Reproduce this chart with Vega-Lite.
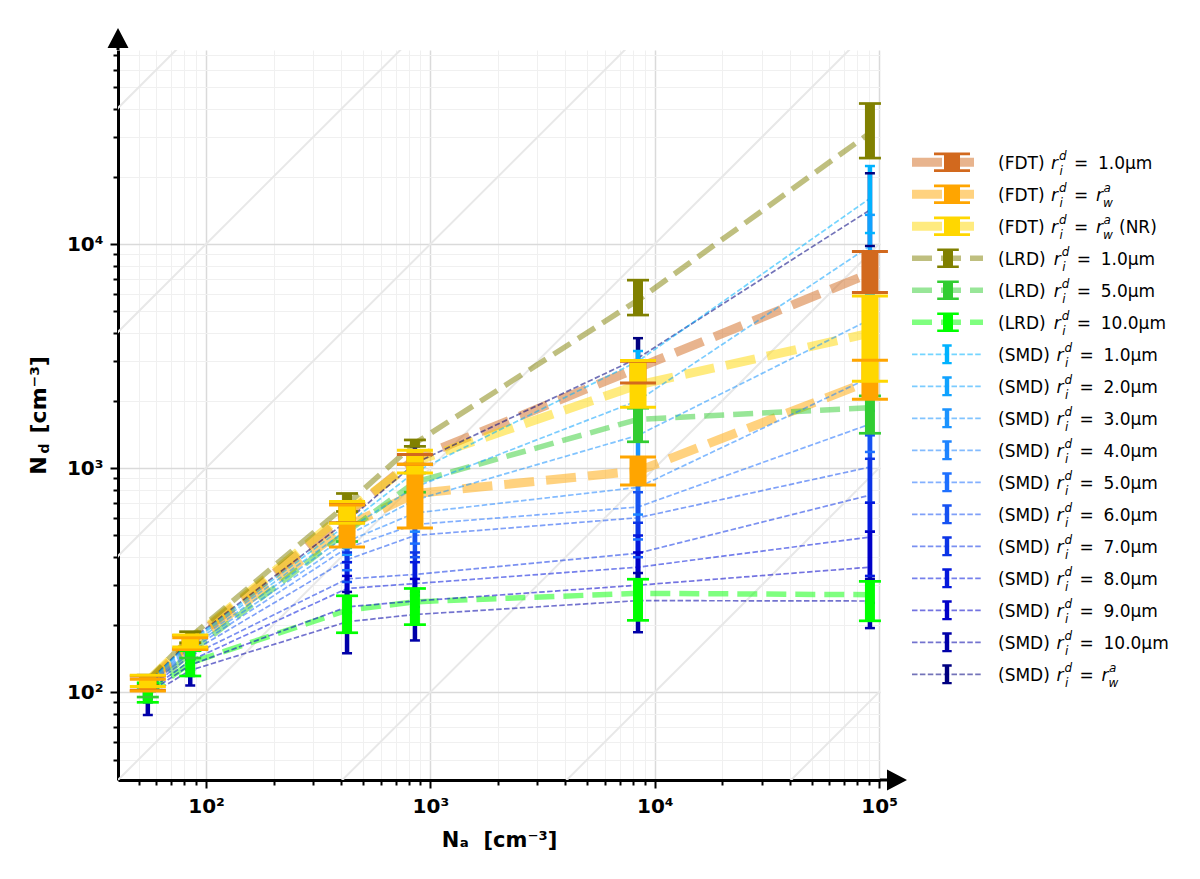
{
  "$schema": "https://vega.github.io/schema/vega-lite/v6.json",
  "padding": {"top": 28, "left": 27, "right": 5, "bottom": 5},
  "background": "white",
  "config": {
    "view": {"stroke": null},
    "font": "DejaVu Sans",
    "range": {"category": ["#D2691E", "#FFA500", "#FFD700", "#808000", "#32CD32", "#00FF00", "#00B2FF", "#0FA2FF", "#1A93FF", "#1E84FF", "#1E70FF", "#1652F2", "#0C34E6", "#0418DC", "#0000C8", "#0000A8", "#000080"]}
  },
  "datasets": {
    "pts": [
      {"s": "01_FDT_1.0", "m": "FDT", "x": 55, "y": 110, "lo": 102, "hi": 118},
      {"s": "01_FDT_1.0", "m": "FDT", "x": 85, "y": 168, "lo": 156, "hi": 179},
      {"s": "01_FDT_1.0", "m": "FDT", "x": 425, "y": 620, "lo": 570, "hi": 700},
      {"s": "01_FDT_1.0", "m": "FDT", "x": 853, "y": 1100, "lo": 1040, "hi": 1150},
      {"s": "01_FDT_1.0", "m": "FDT", "x": 8420, "y": 2800, "lo": 2400, "hi": 3000},
      {"s": "01_FDT_1.0", "m": "FDT", "x": 91000, "y": 7400, "lo": 6070, "hi": 9270},
      {"s": "02_FDT_rwa", "m": "FDT", "x": 55, "y": 108, "lo": 101, "hi": 114},
      {"s": "02_FDT_rwa", "m": "FDT", "x": 85, "y": 164, "lo": 155, "hi": 175},
      {"s": "02_FDT_rwa", "m": "FDT", "x": 425, "y": 550, "lo": 444, "hi": 684},
      {"s": "02_FDT_rwa", "m": "FDT", "x": 853, "y": 770, "lo": 540, "hi": 1040},
      {"s": "02_FDT_rwa", "m": "FDT", "x": 8420, "y": 970, "lo": 840, "hi": 1120},
      {"s": "02_FDT_rwa", "m": "FDT", "x": 91000, "y": 2450, "lo": 2030, "hi": 3030},
      {"s": "03_FDT_NR", "m": "FDT", "x": 55, "y": 112, "lo": 106, "hi": 119},
      {"s": "03_FDT_NR", "m": "FDT", "x": 85, "y": 170, "lo": 159, "hi": 180},
      {"s": "03_FDT_NR", "m": "FDT", "x": 425, "y": 640, "lo": 567, "hi": 710},
      {"s": "03_FDT_NR", "m": "FDT", "x": 853, "y": 1070, "lo": 950, "hi": 1200},
      {"s": "03_FDT_NR", "m": "FDT", "x": 8420, "y": 2350, "lo": 1870, "hi": 3020},
      {"s": "03_FDT_NR", "m": "FDT", "x": 91000, "y": 4000, "lo": 2440, "hi": 5860},
      {"s": "04_LRD_1.0", "m": "LRD", "x": 55, "y": 113, "lo": 107, "hi": 119},
      {"s": "04_LRD_1.0", "m": "LRD", "x": 85, "y": 176, "lo": 166, "hi": 186},
      {"s": "04_LRD_1.0", "m": "LRD", "x": 425, "y": 690, "lo": 640, "hi": 770},
      {"s": "04_LRD_1.0", "m": "LRD", "x": 853, "y": 1290, "lo": 1250, "hi": 1335},
      {"s": "04_LRD_1.0", "m": "LRD", "x": 8420, "y": 5620, "lo": 4820, "hi": 6900},
      {"s": "04_LRD_1.0", "m": "LRD", "x": 91000, "y": 31300, "lo": 24200, "hi": 42400},
      {"s": "05_LRD_5.0", "m": "LRD", "x": 55, "y": 100, "lo": 95, "hi": 105},
      {"s": "05_LRD_5.0", "m": "LRD", "x": 85, "y": 150, "lo": 142, "hi": 158},
      {"s": "05_LRD_5.0", "m": "LRD", "x": 425, "y": 520, "lo": 470, "hi": 570},
      {"s": "05_LRD_5.0", "m": "LRD", "x": 853, "y": 865, "lo": 780, "hi": 950},
      {"s": "05_LRD_5.0", "m": "LRD", "x": 8420, "y": 1650, "lo": 1310, "hi": 1850},
      {"s": "05_LRD_5.0", "m": "LRD", "x": 91000, "y": 1860, "lo": 1430, "hi": 2100},
      {"s": "06_LRD_10.0", "m": "LRD", "x": 55, "y": 98, "lo": 90, "hi": 110},
      {"s": "06_LRD_10.0", "m": "LRD", "x": 85, "y": 135, "lo": 118, "hi": 153},
      {"s": "06_LRD_10.0", "m": "LRD", "x": 425, "y": 232, "lo": 184, "hi": 269},
      {"s": "06_LRD_10.0", "m": "LRD", "x": 853, "y": 253, "lo": 200, "hi": 290},
      {"s": "06_LRD_10.0", "m": "LRD", "x": 8420, "y": 276, "lo": 209, "hi": 319},
      {"s": "06_LRD_10.0", "m": "LRD", "x": 91000, "y": 272, "lo": 208, "hi": 312},
      {"s": "17_SMD_rwa", "m": "SMD", "x": 55, "y": 110, "lo": 104, "hi": 116},
      {"s": "17_SMD_rwa", "m": "SMD", "x": 85, "y": 170, "lo": 160, "hi": 180},
      {"s": "17_SMD_rwa", "m": "SMD", "x": 425, "y": 580, "lo": 480, "hi": 700},
      {"s": "17_SMD_rwa", "m": "SMD", "x": 853, "y": 1050, "lo": 850, "hi": 1250},
      {"s": "17_SMD_rwa", "m": "SMD", "x": 8420, "y": 3100, "lo": 2300, "hi": 3800},
      {"s": "17_SMD_rwa", "m": "SMD", "x": 91000, "y": 14200, "lo": 9800, "hi": 20700},
      {"s": "07_SMD_1.0", "m": "SMD", "x": 55, "y": 110, "lo": 105, "hi": 116},
      {"s": "07_SMD_1.0", "m": "SMD", "x": 85, "y": 168, "lo": 160, "hi": 177},
      {"s": "07_SMD_1.0", "m": "SMD", "x": 425, "y": 560, "lo": 470, "hi": 660},
      {"s": "07_SMD_1.0", "m": "SMD", "x": 853, "y": 960, "lo": 800, "hi": 1150},
      {"s": "07_SMD_1.0", "m": "SMD", "x": 8420, "y": 3000, "lo": 2350, "hi": 3330},
      {"s": "07_SMD_1.0", "m": "SMD", "x": 91000, "y": 16000, "lo": 11200, "hi": 22300},
      {"s": "08_SMD_2.0", "m": "SMD", "x": 55, "y": 109, "lo": 104, "hi": 115},
      {"s": "08_SMD_2.0", "m": "SMD", "x": 85, "y": 166, "lo": 157, "hi": 175},
      {"s": "08_SMD_2.0", "m": "SMD", "x": 425, "y": 530, "lo": 440, "hi": 630},
      {"s": "08_SMD_2.0", "m": "SMD", "x": 853, "y": 822, "lo": 680, "hi": 1000},
      {"s": "08_SMD_2.0", "m": "SMD", "x": 8420, "y": 2000, "lo": 1450, "hi": 2700},
      {"s": "08_SMD_2.0", "m": "SMD", "x": 91000, "y": 9800, "lo": 6000, "hi": 13500},
      {"s": "09_SMD_3.0", "m": "SMD", "x": 55, "y": 108, "lo": 102, "hi": 114},
      {"s": "09_SMD_3.0", "m": "SMD", "x": 85, "y": 162, "lo": 153, "hi": 172},
      {"s": "09_SMD_3.0", "m": "SMD", "x": 425, "y": 500, "lo": 410, "hi": 600},
      {"s": "09_SMD_3.0", "m": "SMD", "x": 853, "y": 720, "lo": 600, "hi": 880},
      {"s": "09_SMD_3.0", "m": "SMD", "x": 8420, "y": 1400, "lo": 950, "hi": 1900},
      {"s": "09_SMD_3.0", "m": "SMD", "x": 91000, "y": 4600, "lo": 3000, "hi": 6500},
      {"s": "10_SMD_4.0", "m": "SMD", "x": 55, "y": 107, "lo": 101, "hi": 113},
      {"s": "10_SMD_4.0", "m": "SMD", "x": 85, "y": 158, "lo": 149, "hi": 168},
      {"s": "10_SMD_4.0", "m": "SMD", "x": 425, "y": 470, "lo": 380, "hi": 570},
      {"s": "10_SMD_4.0", "m": "SMD", "x": 853, "y": 630, "lo": 520, "hi": 760},
      {"s": "10_SMD_4.0", "m": "SMD", "x": 8420, "y": 820, "lo": 620, "hi": 1100},
      {"s": "10_SMD_4.0", "m": "SMD", "x": 91000, "y": 2540, "lo": 1800, "hi": 3500},
      {"s": "11_SMD_5.0", "m": "SMD", "x": 55, "y": 106, "lo": 100, "hi": 112},
      {"s": "11_SMD_5.0", "m": "SMD", "x": 85, "y": 154, "lo": 145, "hi": 164},
      {"s": "11_SMD_5.0", "m": "SMD", "x": 425, "y": 440, "lo": 350, "hi": 540},
      {"s": "11_SMD_5.0", "m": "SMD", "x": 853, "y": 560, "lo": 460, "hi": 680},
      {"s": "11_SMD_5.0", "m": "SMD", "x": 8420, "y": 670, "lo": 480, "hi": 900},
      {"s": "11_SMD_5.0", "m": "SMD", "x": 91000, "y": 1570, "lo": 1180, "hi": 2100},
      {"s": "12_SMD_6.0", "m": "SMD", "x": 55, "y": 105, "lo": 98, "hi": 111},
      {"s": "12_SMD_6.0", "m": "SMD", "x": 85, "y": 150, "lo": 140, "hi": 160},
      {"s": "12_SMD_6.0", "m": "SMD", "x": 425, "y": 390, "lo": 310, "hi": 490},
      {"s": "12_SMD_6.0", "m": "SMD", "x": 853, "y": 500, "lo": 400, "hi": 620},
      {"s": "12_SMD_6.0", "m": "SMD", "x": 8420, "y": 600, "lo": 400, "hi": 780},
      {"s": "12_SMD_6.0", "m": "SMD", "x": 91000, "y": 1010, "lo": 700, "hi": 1400},
      {"s": "13_SMD_7.0", "m": "SMD", "x": 55, "y": 103, "lo": 96, "hi": 110},
      {"s": "13_SMD_7.0", "m": "SMD", "x": 85, "y": 145, "lo": 135, "hi": 156},
      {"s": "13_SMD_7.0", "m": "SMD", "x": 425, "y": 320, "lo": 260, "hi": 420},
      {"s": "13_SMD_7.0", "m": "SMD", "x": 853, "y": 335, "lo": 270, "hi": 420},
      {"s": "13_SMD_7.0", "m": "SMD", "x": 8420, "y": 417, "lo": 300, "hi": 570},
      {"s": "13_SMD_7.0", "m": "SMD", "x": 91000, "y": 757, "lo": 520, "hi": 1100},
      {"s": "14_SMD_8.0", "m": "SMD", "x": 55, "y": 101, "lo": 93, "hi": 108},
      {"s": "14_SMD_8.0", "m": "SMD", "x": 85, "y": 138, "lo": 126, "hi": 150},
      {"s": "14_SMD_8.0", "m": "SMD", "x": 425, "y": 290, "lo": 225, "hi": 380},
      {"s": "14_SMD_8.0", "m": "SMD", "x": 853, "y": 305, "lo": 240, "hi": 380},
      {"s": "14_SMD_8.0", "m": "SMD", "x": 8420, "y": 361, "lo": 250, "hi": 500},
      {"s": "14_SMD_8.0", "m": "SMD", "x": 91000, "y": 492, "lo": 330, "hi": 700},
      {"s": "15_SMD_9.0", "m": "SMD", "x": 55, "y": 99, "lo": 90, "hi": 107},
      {"s": "15_SMD_9.0", "m": "SMD", "x": 85, "y": 132, "lo": 118, "hi": 146},
      {"s": "15_SMD_9.0", "m": "SMD", "x": 425, "y": 240, "lo": 185, "hi": 330},
      {"s": "15_SMD_9.0", "m": "SMD", "x": 853, "y": 255, "lo": 200, "hi": 320},
      {"s": "15_SMD_9.0", "m": "SMD", "x": 8420, "y": 300, "lo": 215, "hi": 420},
      {"s": "15_SMD_9.0", "m": "SMD", "x": 91000, "y": 361, "lo": 250, "hi": 520},
      {"s": "16_SMD_10.0", "m": "SMD", "x": 55, "y": 96, "lo": 79, "hi": 106},
      {"s": "16_SMD_10.0", "m": "SMD", "x": 85, "y": 125, "lo": 107, "hi": 140},
      {"s": "16_SMD_10.0", "m": "SMD", "x": 425, "y": 206, "lo": 149, "hi": 280},
      {"s": "16_SMD_10.0", "m": "SMD", "x": 853, "y": 222, "lo": 170, "hi": 280},
      {"s": "16_SMD_10.0", "m": "SMD", "x": 8420, "y": 256, "lo": 185, "hi": 340},
      {"s": "16_SMD_10.0", "m": "SMD", "x": 91000, "y": 255, "lo": 193, "hi": 320}
    ],
    "diag": [
      {"k": "-3", "x": 100, "y": 0.1}, {"k": "-3", "x": 1000000, "y": 1000},
      {"k": "-2", "x": 100, "y": 1}, {"k": "-2", "x": 1000000, "y": 10000},
      {"k": "-1", "x": 10, "y": 1}, {"k": "-1", "x": 1000000, "y": 100000},
      {"k": "0", "x": 10, "y": 10}, {"k": "0", "x": 1000000, "y": 1000000},
      {"k": "1", "x": 1, "y": 10}, {"k": "1", "x": 100000, "y": 1000000},
      {"k": "2", "x": 1, "y": 100}, {"k": "2", "x": 10000, "y": 1000000},
      {"k": "3", "x": 1, "y": 1000}, {"k": "3", "x": 1000, "y": 1000000}
    ],
    "leg": [
      {"s": "01_FDT_1.0", "m": "FDT", "pre": "(FDT)", "val": "1.0µm", "rw": "", "sa": "", "sw": "", "nr": ""},
      {"s": "02_FDT_rwa", "m": "FDT", "pre": "(FDT)", "val": "", "rw": "r", "sa": "a", "sw": "w", "nr": ""},
      {"s": "03_FDT_NR", "m": "FDT", "pre": "(FDT)", "val": "", "rw": "r", "sa": "a", "sw": "w", "nr": "(NR)"},
      {"s": "04_LRD_1.0", "m": "LRD", "pre": "(LRD)", "val": "1.0µm", "rw": "", "sa": "", "sw": "", "nr": ""},
      {"s": "05_LRD_5.0", "m": "LRD", "pre": "(LRD)", "val": "5.0µm", "rw": "", "sa": "", "sw": "", "nr": ""},
      {"s": "06_LRD_10.0", "m": "LRD", "pre": "(LRD)", "val": "10.0µm", "rw": "", "sa": "", "sw": "", "nr": ""},
      {"s": "07_SMD_1.0", "m": "SMD", "pre": "(SMD)", "val": "1.0µm", "rw": "", "sa": "", "sw": "", "nr": ""},
      {"s": "08_SMD_2.0", "m": "SMD", "pre": "(SMD)", "val": "2.0µm", "rw": "", "sa": "", "sw": "", "nr": ""},
      {"s": "09_SMD_3.0", "m": "SMD", "pre": "(SMD)", "val": "3.0µm", "rw": "", "sa": "", "sw": "", "nr": ""},
      {"s": "10_SMD_4.0", "m": "SMD", "pre": "(SMD)", "val": "4.0µm", "rw": "", "sa": "", "sw": "", "nr": ""},
      {"s": "11_SMD_5.0", "m": "SMD", "pre": "(SMD)", "val": "5.0µm", "rw": "", "sa": "", "sw": "", "nr": ""},
      {"s": "12_SMD_6.0", "m": "SMD", "pre": "(SMD)", "val": "6.0µm", "rw": "", "sa": "", "sw": "", "nr": ""},
      {"s": "13_SMD_7.0", "m": "SMD", "pre": "(SMD)", "val": "7.0µm", "rw": "", "sa": "", "sw": "", "nr": ""},
      {"s": "14_SMD_8.0", "m": "SMD", "pre": "(SMD)", "val": "8.0µm", "rw": "", "sa": "", "sw": "", "nr": ""},
      {"s": "15_SMD_9.0", "m": "SMD", "pre": "(SMD)", "val": "9.0µm", "rw": "", "sa": "", "sw": "", "nr": ""},
      {"s": "16_SMD_10.0", "m": "SMD", "pre": "(SMD)", "val": "10.0µm", "rw": "", "sa": "", "sw": "", "nr": ""},
      {"s": "17_SMD_rwa", "m": "SMD", "pre": "(SMD)", "val": "", "rw": "r", "sa": "a", "sw": "w", "nr": ""}
    ]
  },
  "spacing": 0,
  "hconcat": [
    {
      "width": 762,
      "height": 730,
      "data": {"name": "pts"},
      "encoding": {
        "x": {"field": "x", "type": "quantitative", "scale": {"type": "log", "domain": [40.5, 100900], "nice": false}, "axis": null},
        "y": {"field": "y", "type": "quantitative", "scale": {"type": "log", "domain": [40.5, 73500], "nice": false}, "axis": null},
        "color": {"field": "s", "type": "nominal", "legend": null}
      },
      "resolve": {"axis": {"x": "independent", "y": "independent"}},
      "layer": [
        {
          "data": {"name": "diag"},
          "mark": {"type": "line", "clip": true, "strokeWidth": 2, "color": "#e8e8e8"},
          "encoding": {
            "x": {
              "field": "x", "type": "quantitative",
              "scale": {"type": "log", "domain": [40.5, 100900], "nice": false},
              "axis": {
                "orient": "bottom",
                "values": [50, 60, 70, 80, 90, 100, 200, 300, 400, 500, 600, 700, 800, 900, 1000, 2000, 3000, 4000, 5000, 6000, 7000, 8000, 9000, 10000, 20000, 30000, 40000, 50000, 60000, 70000, 80000, 90000, 100000],
                "labelExpr": "datum.value == 100 ? '10²' : datum.value == 1000 ? '10³' : datum.value == 10000 ? '10⁴' : datum.value == 100000 ? '10⁵' : ''",
                "labelFont": "DejaVu Sans", "labelFontWeight": "bold", "labelFontSize": 20, "labelColor": "black",
                "labelPadding": 8, "labelOverlap": false, "labelFlush": false,
                "domainColor": "black", "domainWidth": 3,
                "tickColor": "black", "tickWidth": 2,
                "tickSize": {"condition": {"test": "indexof([100, 1000, 10000, 100000], datum.value) >= 0", "value": 8}, "value": 5},
                "grid": true,
                "gridColor": {"condition": {"test": "indexof([100, 1000, 10000, 100000], datum.value) >= 0", "value": "#dadada"}, "value": "#f0f0f0"},
                "gridWidth": {"condition": {"test": "indexof([100, 1000, 10000, 100000], datum.value) >= 0", "value": 1.5}, "value": 1},
                "title": "Nₐ\u00a0\u00a0[cm⁻³]",
                "titleFont": "DejaVu Sans", "titleFontWeight": "bold", "titleFontSize": 21, "titleColor": "black",
                "titlePadding": 13
              }
            },
            "y": {
              "field": "y", "type": "quantitative",
              "scale": {"type": "log", "domain": [40.5, 73500], "nice": false},
              "axis": {
                "orient": "left",
                "values": [50, 60, 70, 80, 90, 100, 200, 300, 400, 500, 600, 700, 800, 900, 1000, 2000, 3000, 4000, 5000, 6000, 7000, 8000, 9000, 10000, 20000, 30000, 40000, 50000, 60000, 70000],
                "labelExpr": "datum.value == 100 ? '10²' : datum.value == 1000 ? '10³' : datum.value == 10000 ? '10⁴' : ''",
                "labelFont": "DejaVu Sans", "labelFontWeight": "bold", "labelFontSize": 20, "labelColor": "black",
                "labelPadding": 7, "labelOverlap": false, "labelFlush": false,
                "domainColor": "black", "domainWidth": 3,
                "tickColor": "black", "tickWidth": 2,
                "tickSize": {"condition": {"test": "indexof([100, 1000, 10000], datum.value) >= 0", "value": 8}, "value": 5},
                "grid": true,
                "gridColor": {"condition": {"test": "indexof([100, 1000, 10000], datum.value) >= 0", "value": "#dadada"}, "value": "#f0f0f0"},
                "gridWidth": {"condition": {"test": "indexof([100, 1000, 10000], datum.value) >= 0", "value": 1.5}, "value": 1},
                "title": "N\u00a0\u00a0\u00a0[cm⁻³]",
                "titleFont": "DejaVu Sans", "titleFontWeight": "bold", "titleFontSize": 22, "titleColor": "black",
                "titleX": -80, "titleY": 365, "titleAngle": 270, "titleAlign": "center", "titleBaseline": "middle"
              }
            },
            "detail": {"field": "k", "type": "nominal"},
            "color": {"value": "#e8e8e8"}
          }
        },
        {
          "transform": [{"filter": "datum.m == 'FDT'"}],
          "mark": {"type": "line", "strokeWidth": 9, "strokeDash": [30, 12], "opacity": 0.5}
        },
        {
          "transform": [{"filter": "datum.m == 'LRD'"}],
          "mark": {"type": "line", "strokeWidth": 5.5, "strokeDash": [20, 9], "opacity": 0.5}
        },
        {
          "transform": [{"filter": "datum.m == 'SMD'"}],
          "mark": {"type": "line", "strokeWidth": 1.7, "strokeDash": [5.5, 2.4], "opacity": 0.55},
          "encoding": {
            "y": {
              "field": "y", "type": "quantitative",
              "scale": {"type": "log", "domain": [40.5, 73500], "nice": false},
              "axis": {
                "orient": "left", "domain": false, "ticks": false, "labels": false, "grid": false,
                "title": "d", "titleFont": "DejaVu Sans", "titleFontWeight": "bold", "titleFontSize": 14, "titleColor": "black",
                "titleX": -74, "titleY": 398, "titleAngle": 270, "titleAlign": "center", "titleBaseline": "middle"
              }
            }
          }
        },
        {
          "transform": [{"filter": "datum.m == 'SMD'"}],
          "mark": {"type": "rule", "strokeWidth": 4.5},
          "encoding": {
            "y": {"field": "lo", "type": "quantitative", "scale": {"type": "log", "domain": [40.5, 73500], "nice": false}, "axis": null},
            "y2": {"field": "hi"}
          }
        },
        {
          "transform": [{"filter": "datum.m == 'SMD'"}, {"fold": ["lo", "hi"], "as": ["cap", "v"]}],
          "mark": {"type": "tick", "orient": "horizontal", "size": 10, "thickness": 2.5, "opacity": 1},
          "encoding": {
            "y": {"field": "v", "type": "quantitative", "scale": {"type": "log", "domain": [40.5, 73500], "nice": false}, "axis": null}
          }
        },
        {
          "transform": [{"filter": "datum.m == 'LRD'"}],
          "mark": {"type": "rule", "strokeWidth": 10},
          "encoding": {
            "y": {"field": "lo", "type": "quantitative", "scale": {"type": "log", "domain": [40.5, 73500], "nice": false}, "axis": null},
            "y2": {"field": "hi"}
          }
        },
        {
          "transform": [{"filter": "datum.m == 'LRD'"}, {"fold": ["lo", "hi"], "as": ["cap", "v"]}],
          "mark": {"type": "tick", "orient": "horizontal", "size": 22, "thickness": 2.7, "opacity": 1},
          "encoding": {
            "y": {"field": "v", "type": "quantitative", "scale": {"type": "log", "domain": [40.5, 73500], "nice": false}, "axis": null}
          }
        },
        {
          "transform": [{"filter": "datum.m == 'FDT'"}],
          "mark": {"type": "rule", "strokeWidth": 17},
          "encoding": {
            "y": {"field": "lo", "type": "quantitative", "scale": {"type": "log", "domain": [40.5, 73500], "nice": false}, "axis": null},
            "y2": {"field": "hi"}
          }
        },
        {
          "transform": [{"filter": "datum.m == 'FDT'"}, {"fold": ["lo", "hi"], "as": ["cap", "v"]}],
          "mark": {"type": "tick", "orient": "horizontal", "size": 36, "thickness": 3, "opacity": 1},
          "encoding": {
            "y": {"field": "v", "type": "quantitative", "scale": {"type": "log", "domain": [40.5, 73500], "nice": false}, "axis": null}
          }
        },
        {
          "data": {"values": [{"ax": 100900, "ay": 40.5}]},
          "mark": {"type": "point", "shape": "M 0 -0.15 L 0.7 -0.15 L 0.7 -1.05 L 2.7 0 L 0.7 1.05 L 0.7 0.15 L 0 0.15 Z", "size": 400, "filled": true, "opacity": 1, "strokeWidth": 0},
          "encoding": {
            "x": {"field": "ax", "type": "quantitative", "scale": {"type": "log", "domain": [40.5, 100900], "nice": false}, "axis": null},
            "y": {"field": "ay", "type": "quantitative", "scale": {"type": "log", "domain": [40.5, 73500], "nice": false}, "axis": null},
            "color": {"value": "black"}
          }
        },
        {
          "data": {"values": [{"ax": 40.5, "ay": 73500}]},
          "mark": {"type": "point", "shape": "M -0.15 0 L -0.15 -0.2 L -1.05 -0.2 L 0 -2.2 L 1.05 -0.2 L 0.15 -0.2 L 0.15 0 Z", "size": 400, "filled": true, "opacity": 1, "strokeWidth": 0},
          "encoding": {
            "x": {"field": "ax", "type": "quantitative", "scale": {"type": "log", "domain": [40.5, 100900], "nice": false}, "axis": null},
            "y": {"field": "ay", "type": "quantitative", "scale": {"type": "log", "domain": [40.5, 73500], "nice": false}, "axis": null},
            "color": {"value": "black"}
          }
        }
      ]
    },
    {
      "width": 280,
      "height": 730,
      "data": {"name": "leg"},
      "encoding": {
        "y": {"field": "s", "type": "nominal", "scale": {"type": "point", "range": [112.3, 624.3], "padding": 0}, "axis": null},
        "color": {"field": "s", "type": "nominal", "legend": null}
      },
      "resolve": {"scale": {"x": "independent"}},
      "layer": [
        {
          "transform": [{"filter": "datum.m == 'FDT'"}],
          "mark": {"type": "rule", "strokeWidth": 9, "strokeDash": [30, 12], "opacity": 0.5},
          "encoding": {
            "x": {"datum": 4, "type": "quantitative", "scale": {"domain": [0, 280], "nice": false, "zero": false}, "axis": null},
            "x2": {"datum": 66}
          }
        },
        {
          "transform": [{"filter": "datum.m == 'LRD'"}],
          "mark": {"type": "rule", "strokeWidth": 5.5, "strokeDash": [20, 9], "opacity": 0.5},
          "encoding": {
            "x": {"datum": 4, "type": "quantitative", "scale": {"domain": [0, 280], "nice": false, "zero": false}, "axis": null},
            "x2": {"datum": 75}
          }
        },
        {
          "transform": [{"filter": "datum.m == 'SMD'"}],
          "mark": {"type": "rule", "strokeWidth": 1.7, "strokeDash": [5.5, 2.4], "opacity": 0.55},
          "encoding": {
            "x": {"datum": 4, "type": "quantitative", "scale": {"domain": [0, 280], "nice": false, "zero": false}, "axis": null},
            "x2": {"datum": 73}
          }
        },
        {
          "transform": [{"filter": "datum.m == 'FDT'"}],
          "mark": {"type": "point", "shape": "M -1.8 -0.97 L 1.8 -0.97 L 1.8 -0.7 L 0.8 -0.7 L 0.8 0.7 L 1.8 0.7 L 1.8 0.97 L -1.8 0.97 L -1.8 0.7 L -0.8 0.7 L -0.8 -0.7 L -1.8 -0.7 Z", "size": 400, "filled": true, "opacity": 1, "strokeWidth": 0},
          "encoding": {
            "x": {"datum": 44, "type": "quantitative", "scale": {"domain": [0, 280], "nice": false, "zero": false}, "axis": null}
          }
        },
        {
          "transform": [{"filter": "datum.m == 'LRD'"}],
          "mark": {"type": "point", "shape": "M -1.08 -0.98 L 1.08 -0.98 L 1.08 -0.73 L 0.5 -0.73 L 0.5 0.73 L 1.08 0.73 L 1.08 0.98 L -1.08 0.98 L -1.08 0.73 L -0.5 0.73 L -0.5 -0.73 L -1.08 -0.73 Z", "size": 400, "filled": true, "opacity": 1, "strokeWidth": 0},
          "encoding": {
            "x": {"datum": 40, "type": "quantitative", "scale": {"domain": [0, 280], "nice": false, "zero": false}, "axis": null}
          }
        },
        {
          "transform": [{"filter": "datum.m == 'SMD'"}],
          "mark": {"type": "point", "shape": "M -0.47 -1 L 0.47 -1 L 0.47 -0.76 L 0.22 -0.76 L 0.22 0.76 L 0.47 0.76 L 0.47 1 L -0.47 1 L -0.47 0.76 L -0.22 0.76 L -0.22 -0.76 L -0.47 -0.76 Z", "size": 400, "filled": true, "opacity": 1, "strokeWidth": 0},
          "encoding": {
            "x": {"datum": 39, "type": "quantitative", "scale": {"domain": [0, 280], "nice": false, "zero": false}, "axis": null}
          }
        },
        {
          "mark": {"type": "text", "align": "left", "baseline": "alphabetic", "dy": 7, "font": "DejaVu Sans", "fontSize": 17},
          "encoding": {
            "x": {"datum": 90, "type": "quantitative", "scale": {"domain": [0, 280], "nice": false, "zero": false}, "axis": null},
            "text": {"field": "pre"},
            "color": {"value": "black"}
          }
        },
        {
          "mark": {"type": "text", "align": "left", "baseline": "alphabetic", "dy": 7, "font": "DejaVu Sans", "fontSize": 17, "fontStyle": "italic"},
          "encoding": {
            "x": {"field": "m", "type": "nominal", "scale": {"type": "point", "domain": ["FDT", "LRD", "SMD"], "range": [143, 148.5], "padding": 0}, "axis": null},
            "text": {"value": "r"},
            "color": {"value": "black"}
          }
        },
        {
          "mark": {"type": "text", "align": "left", "baseline": "alphabetic", "dy": -2, "font": "DejaVu Sans", "fontSize": 12, "fontStyle": "italic"},
          "encoding": {
            "x": {"field": "m", "type": "nominal", "scale": {"type": "point", "domain": ["FDT", "LRD", "SMD"], "range": [151, 156.5], "padding": 0}, "axis": null},
            "text": {"value": "d"},
            "color": {"value": "black"}
          }
        },
        {
          "mark": {"type": "text", "align": "left", "baseline": "alphabetic", "dy": 12.5, "font": "DejaVu Sans", "fontSize": 12, "fontStyle": "italic"},
          "encoding": {
            "x": {"field": "m", "type": "nominal", "scale": {"type": "point", "domain": ["FDT", "LRD", "SMD"], "range": [151.5, 157], "padding": 0}, "axis": null},
            "text": {"value": "i"},
            "color": {"value": "black"}
          }
        },
        {
          "mark": {"type": "text", "align": "left", "baseline": "alphabetic", "dy": 7, "font": "DejaVu Sans", "fontSize": 17},
          "encoding": {
            "x": {"field": "m", "type": "nominal", "scale": {"type": "point", "domain": ["FDT", "LRD", "SMD"], "range": [166, 171.5], "padding": 0}, "axis": null},
            "text": {"value": "="},
            "color": {"value": "black"}
          }
        },
        {
          "mark": {"type": "text", "align": "left", "baseline": "alphabetic", "dy": 7, "font": "DejaVu Sans", "fontSize": 17},
          "encoding": {
            "x": {"field": "m", "type": "nominal", "scale": {"type": "point", "domain": ["FDT", "LRD", "SMD"], "range": [190, 195.5], "padding": 0}, "axis": null},
            "text": {"field": "val"},
            "color": {"value": "black"}
          }
        },
        {
          "mark": {"type": "text", "align": "left", "baseline": "alphabetic", "dy": 7, "font": "DejaVu Sans", "fontSize": 17, "fontStyle": "italic"},
          "encoding": {
            "x": {"field": "m", "type": "nominal", "scale": {"type": "point", "domain": ["FDT", "LRD", "SMD"], "range": [188, 193.5], "padding": 0}, "axis": null},
            "text": {"field": "rw"},
            "color": {"value": "black"}
          }
        },
        {
          "mark": {"type": "text", "align": "left", "baseline": "alphabetic", "dy": -2, "font": "DejaVu Sans", "fontSize": 12, "fontStyle": "italic"},
          "encoding": {
            "x": {"field": "m", "type": "nominal", "scale": {"type": "point", "domain": ["FDT", "LRD", "SMD"], "range": [195.5, 201], "padding": 0}, "axis": null},
            "text": {"field": "sa"},
            "color": {"value": "black"}
          }
        },
        {
          "mark": {"type": "text", "align": "left", "baseline": "alphabetic", "dy": 12.5, "font": "DejaVu Sans", "fontSize": 12, "fontStyle": "italic"},
          "encoding": {
            "x": {"field": "m", "type": "nominal", "scale": {"type": "point", "domain": ["FDT", "LRD", "SMD"], "range": [195, 200.5], "padding": 0}, "axis": null},
            "text": {"field": "sw"},
            "color": {"value": "black"}
          }
        },
        {
          "mark": {"type": "text", "align": "left", "baseline": "alphabetic", "dy": 7, "font": "DejaVu Sans", "fontSize": 17},
          "encoding": {
            "x": {"field": "m", "type": "nominal", "scale": {"type": "point", "domain": ["FDT", "LRD", "SMD"], "range": [211, 216.5], "padding": 0}, "axis": null},
            "text": {"field": "nr"},
            "color": {"value": "black"}
          }
        }
      ]
    }
  ]
}
